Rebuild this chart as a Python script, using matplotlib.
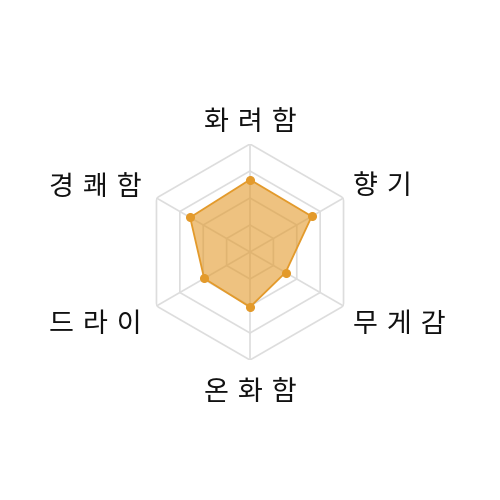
import numpy as np
import matplotlib.pyplot as plt

plt.rcParams['font.family'] = ['Noto Sans CJK KR', 'DejaVu Sans']

labels = ['화려함', '향기', '무게감', '온화함', '드라이', '경쾌함']
values = [67, 66, 38, 51, 49, 64]
levels = [25, 50, 75, 100]
max_val = 100

line_color = '#E39A2B'
grid_color = '#DDDDDD'

n = len(labels)
angles = np.linspace(0, 2 * np.pi, n, endpoint=False)
closed = np.append(angles, angles[0])

fig = plt.figure(figsize=(5, 5), dpi=100)
ax = fig.add_axes([0.284, 0.28, 0.432, 0.432], projection='polar')
ax.set_theta_offset(np.pi / 2)
ax.set_theta_direction(-1)
ax.set_ylim(0, max_val)
ax.grid(False)
ax.spines['polar'].set_visible(False)
ax.set_xticks([])
ax.set_yticks([])

# hexagon rings + spokes
for lv in levels:
    ax.plot(closed, [lv] * (n + 1), color=grid_color, lw=1.2, zorder=1)
for a in angles:
    ax.plot([a, a], [0, max_val], color=grid_color, lw=1.2, zorder=1)

vals = values + values[:1]
ax.fill(closed, vals, color=line_color, alpha=0.6, lw=0, zorder=2)
ax.plot(closed, vals, color=line_color, lw=1.3, zorder=3)
ax.plot(angles, values, 'o', color=line_color, ms=5.5, zorder=4)

# axis labels, offset from outer vertex in pixels
for a, lab in zip(angles, labels):
    s, c = np.sin(a), np.cos(a)
    if abs(s) < 0.1:
        ha, dx = 'center', 0
        dy = 21 if c > 0 else -32
    else:
        ha = 'left' if s > 0 else 'right'
        dx = 9 if s > 0 else -15
        dy = 11 if c > 0 else -18
    ax.annotate('\u2004'.join(lab), xy=(a, max_val), xytext=(dx, dy),
                textcoords='offset pixels', ha=ha, va='center',
                fontsize=19.5, fontweight='light', color='#111111',
                annotation_clip=False)

fig.savefig('out.png', dpi=100, facecolor='white')
